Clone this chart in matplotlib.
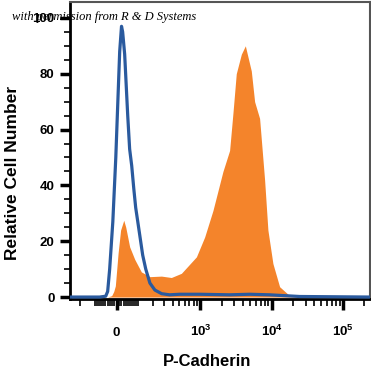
import matplotlib
matplotlib.use("Agg")
import matplotlib.pyplot as plt
import numpy as np

# ---- data ----
# isotype control (blue outline)
ctrl_x = [-290, -78, -49, -40, -31, -17, -4, 4, 13, 21, 26, 35, 49, 58, 68, 78, 88, 99,
          115, 127, 146, 174, 212, 272, 360, 506, 978, 2580, 4930, 9390, 15250, 24700, 237700]
ctrl_y = [0, 0, 0.3, 2, 10, 27, 50, 68, 88, 97, 95, 87, 65, 53, 47, 39, 32, 27,
          20, 15, 10, 5, 2.5, 1.2, 0.8, 1.0, 1.0, 0.8, 1.0, 0.8, 0.5, 0.2, 0]

# P-Cadherin stained (orange fill)
pcad_x = [-290, -40, -22, -13, -6, 6, 17, 31, 40, 58, 83, 119, 174, 270, 382, 536, 879,
          1150, 1505, 2080, 2580, 2870, 3200, 3770, 4290, 5200, 5790, 6800, 7990, 8890,
          10450, 12970, 17890, 24700, 237700]
pcad_y = [0, 0, 0.5, 2, 4, 15.7, 24, 27.5, 25, 18, 13.5, 9, 7.3, 7.5, 7, 8.5, 14.4,
          21.5, 31, 45, 52.5, 65.7, 80, 87, 90, 81, 70, 64, 42, 24,
          12, 3.7, 0.5, 0, 0]

major_ticks = [0, 1e3, 1e4, 1e5]
major_labels = [r'$\mathbf{0}$', r'$\mathbf{10^{3}}$', r'$\mathbf{10^{4}}$', r'$\mathbf{10^{5}}$']
y_ticks = [0, 20, 40, 60, 80, 100]

ORANGE = '#F4842B'
BLUE = '#2A5A9E'
W = 135.0  # linear width of the biexponential-like scale

plt.rcParams['font.family'] = ['Liberation Sans', 'DejaVu Sans']
plt.rcParams['mathtext.fontset'] = 'custom'
plt.rcParams['mathtext.bf'] = 'Liberation Sans:bold'
plt.rcParams['mathtext.rm'] = 'Liberation Sans:bold'

fig = plt.figure(figsize=(3.71, 3.72), dpi=100)
ax = fig.add_axes([70 / 371, 1 - 299 / 372, 300 / 371, 297 / 372])

ax.set_xscale('function', functions=(lambda v: np.arcsinh(np.asarray(v) / W),
                                     lambda u: W * np.sinh(np.asarray(u))))

ax.fill_between(pcad_x, pcad_y, 0, color=ORANGE, lw=0, zorder=2)
ax.plot(ctrl_x, ctrl_y, color=BLUE, lw=2.3, zorder=3, solid_joinstyle='round')

ax.set_xlim(-290, 240000)
ax.set_ylim(-0.7, 105.7)

# x ticks
minor = []
minor += [-200, -100] + list(range(-90, 0, 10))
for dec in [10, 100, 1000, 10000]:
    minor += [k * dec for k in range(1, 10) if k * dec not in major_ticks]
minor += [200000]
ax.set_xticks(major_ticks)
ax.set_xticklabels(major_labels)
ax.set_xticks(minor, minor=True)
ax.tick_params(axis='x', which='major', length=8, width=2.5, pad=19,
               labelsize=9.5, direction='out')
ax.tick_params(axis='x', which='minor', length=5, width=1.2, direction='out')
plt.setp(ax.get_xticklabels(), va='baseline')

# y ticks
ax.set_yticks(y_ticks)
ax.set_yticks(np.arange(0, 105, 5), minor=True)
ax.tick_params(axis='y', which='major', length=7, width=2.5, pad=4, labelsize=9.5)
ax.tick_params(axis='y', which='minor', length=4, width=1.2)
for lab in ax.get_yticklabels():
    lab.set_fontweight('bold')

for side in ['left', 'bottom']:
    ax.spines[side].set_linewidth(2)
    ax.spines[side].set_color('black')
for side in ['top', 'right']:
    ax.spines[side].set_linewidth(1.5)
    ax.spines[side].set_color('#555555')

ax.set_ylabel('Relative Cell Number', fontsize=12.5, fontweight='bold')
ax.yaxis.set_label_coords(-0.167, 0.426)
ax.set_xlabel('P-Cadherin', fontsize=12, fontweight='bold')
ax.xaxis.set_label_coords(0.457, -0.186)

fig.text(12 / 371, 1 - 17 / 372, 'with permission from R & D Systems',
         fontsize=9, style='italic', family=['Liberation Serif', 'DejaVu Serif'],
         va='center', ha='left')

fig.savefig('out.png', dpi=100)
